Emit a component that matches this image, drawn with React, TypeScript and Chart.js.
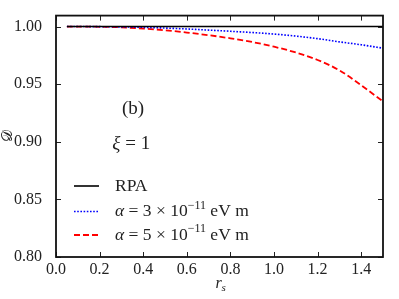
import React, { useEffect, useRef } from "react";
import { Chart, registerables } from "chart.js";
Chart.register(...registerables);

const xValues = [0.05, 0.1, 0.2, 0.3, 0.4, 0.5, 0.6, 0.7, 0.8, 0.9, 1.0, 1.1, 1.2, 1.3, 1.4, 1.5];
const rpaValues = [1, 1, 1, 1, 1, 1, 1, 1, 1, 1, 1, 1, 1, 1, 1, 1];
const alpha3Values = [1.0, 1.0, 0.9999, 0.9997, 0.9993, 0.9987, 0.9979, 0.9969, 0.9959, 0.9948, 0.9935, 0.9917, 0.9895, 0.9867, 0.9842, 0.9812];
const alpha5Values = [1.0, 1.0, 0.9998, 0.9993, 0.9983, 0.9968, 0.9948, 0.9925, 0.9898, 0.9866, 0.9825, 0.9775, 0.971, 0.962, 0.949, 0.935];
const xTicks = [0.0, 0.2, 0.4, 0.6, 0.8, 1.0, 1.2, 1.4];
const yTicks = [0.8, 0.85, 0.9, 0.95, 1.0];

const legendTexts: [string, string][][] = [
  [["RPA", "rm"]],
  [["α", "it"], [" = 3 × 10", "rm"], ["−11", "sup"], [" eV m", "rm"]],
  [["α", "it"], [" = 5 × 10", "rm"], ["−11", "sup"], [" eV m", "rm"]],
];
const panelLabel = "(b)";
const xiLabel: [string, string][] = [["ξ", "it"], [" = 1", "rm"]];

const SERIF = '"Liberation Serif", "DejaVu Serif", serif';

const colors = ["#000000", "#0000ff", "#ff0000"];
const dashes = [[], [1.6, 1.6], [6, 3]];
const widths = [1.6, 1.6, 1.8];

function fontFor(style: string, size: number) {
  if (style === "it") return `italic ${size}px ${SERIF}`;
  if (style === "sup") return `${Math.round(size * 0.7)}px ${SERIF}`;
  return `${size}px ${SERIF}`;
}

function drawRich(ctx: CanvasRenderingContext2D, segs: [string, string][], x: number, y: number, size: number, align: "left" | "center" = "left") {
  let total = 0;
  for (const [t, s] of segs) {
    ctx.font = fontFor(s, size);
    total += ctx.measureText(t).width;
  }
  let cx = align === "center" ? x - total / 2 : x;
  ctx.textBaseline = "middle";
  ctx.textAlign = "left";
  for (const [t, s] of segs) {
    ctx.font = fontFor(s, size);
    const dy = s === "sup" ? -size * 0.35 : 0;
    ctx.fillText(t, cx, y + dy);
    cx += ctx.measureText(t).width;
  }
}

const decorPlugin = {
  id: "decor",
  afterDraw(chart: any) {
    const ctx = chart.ctx as CanvasRenderingContext2D;
    const { left, right, top, bottom } = chart.chartArea;
    const xs = chart.scales.x;
    const ys = chart.scales.y;
    ctx.save();
    // ticks inward
    ctx.strokeStyle = "#222";
    ctx.lineWidth = 1;
    const tl = 5;
    for (const v of xTicks) {
      const px = Math.round(xs.getPixelForValue(v)) + 0.5;
      ctx.beginPath();
      ctx.moveTo(px, bottom);
      ctx.lineTo(px, bottom - tl);
      ctx.moveTo(px, top);
      ctx.lineTo(px, top + tl);
      ctx.stroke();
    }
    for (const v of yTicks) {
      const py = Math.round(ys.getPixelForValue(v)) + 0.5;
      ctx.beginPath();
      ctx.moveTo(left, py);
      ctx.lineTo(left + tl, py);
      ctx.moveTo(right, py);
      ctx.lineTo(right - tl, py);
      ctx.stroke();
    }
    // frame
    ctx.strokeStyle = "#111";
    ctx.lineWidth = 1.8;
    ctx.strokeRect(left, top, right - left, bottom - top);

    ctx.fillStyle = "#222";
    // legend
    const rows = [bottom - 71, bottom - 45.5, bottom - 22];
    for (let i = 0; i < legendTexts.length; i++) {
      const y = rows[i];
      ctx.save();
      ctx.strokeStyle = colors[i];
      ctx.lineWidth = widths[i];
      ctx.setLineDash(dashes[i]);
      ctx.beginPath();
      ctx.moveTo(left + 18, y);
      ctx.lineTo(left + 43, y);
      ctx.stroke();
      ctx.restore();
      drawRich(ctx, legendTexts[i], left + 59, y, 17.5);
    }
    // annotations
    drawRich(ctx, [[panelLabel, "rm"]], xs.getPixelForValue(0.353), ys.getPixelForValue(0.928), 19, "center");
    drawRich(ctx, xiLabel, xs.getPixelForValue(0.345), ys.getPixelForValue(0.8977), 19, "center");
    // axis titles
    drawRich(ctx, [["r", "it"]], (left + right) / 2 - 4, 284, 16);
    ctx.font = `italic 11px ${SERIF}`;
    ctx.fillText("s", (left + right) / 2 + 2, 288);
    ctx.save();
    ctx.translate(8, (top + bottom) / 2);
    ctx.rotate(-Math.PI / 2);
    ctx.textAlign = "center";
    ctx.textBaseline = "middle";
    ctx.font = `15px ${SERIF}`;
    ctx.fillText("𝒟", 0, 0);
    ctx.restore();
    ctx.restore();
  },
};

export default function App() {
  const ref = useRef<HTMLCanvasElement | null>(null);
  useEffect(() => {
    document.body.style.margin = "0";
    const canvas = ref.current!;
    const names = ["RPA", "α = 3e-11", "α = 5e-11"];
    const series = [rpaValues, alpha3Values, alpha5Values];
    const chart = new Chart(canvas, {
      type: "line",
      data: {
        datasets: series.map((vals, i) => ({
          label: names[i],
          data: xValues.map((x, j) => ({ x, y: vals[j] })),
          borderColor: colors[i],
          borderWidth: widths[i],
          borderDash: dashes[i],
          pointRadius: 0,
          fill: false,
          cubicInterpolationMode: "monotone" as const,
        })),
      },
      options: {
        responsive: false,
        animation: false,
        layout: { padding: { top: 12, right: 16, left: 0, bottom: 0 } },
        plugins: { legend: { display: false }, tooltip: { enabled: false } },
        scales: {
          x: {
            type: "linear",
            min: 0,
            max: 1.5,
            grid: { display: false },
            border: { display: false },
            afterBuildTicks: (s: any) => {
              s.ticks = xTicks.map((v) => ({ value: v }));
            },
            afterFit: (s: any) => {
              s.height = 42;
            },
            ticks: {
              padding: -5,
              color: "#222",
              font: { family: SERIF, size: 16 },
              callback: (v: any) => Number(v).toFixed(1),
            },
          },
          y: {
            type: "linear",
            min: 0.8,
            max: 1.0095,
            grid: { display: false },
            border: { display: false },
            afterBuildTicks: (s: any) => {
              s.ticks = yTicks.map((v) => ({ value: v }));
            },
            afterFit: (s: any) => {
              s.width = 56;
            },
            ticks: {
              padding: 6,
              color: "#222",
              font: { family: SERIF, size: 16 },
              callback: (v: any) => Number(v).toFixed(2),
            },
          },
        },
      },
      plugins: [decorPlugin],
    } as any);
    return () => chart.destroy();
  }, []);
  return <canvas ref={ref} width={399} height={299} style={{ display: "block" }} />;
}
